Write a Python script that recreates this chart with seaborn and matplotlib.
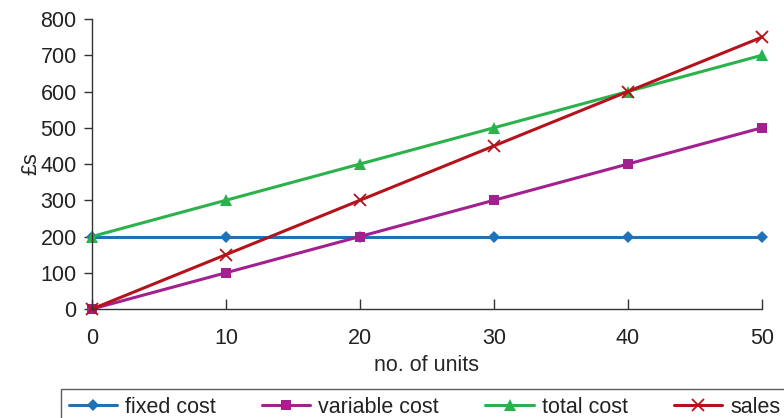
import pandas as pd
import matplotlib.pyplot as plt
import seaborn as sns

units = [0, 10, 20, 30, 40, 50]
fixed_cost = [200, 200, 200, 200, 200, 200]
variable_cost = [0, 100, 200, 300, 400, 500]
total_cost = [200, 300, 400, 500, 600, 700]
sales = [0, 150, 300, 450, 600, 750]

sns.set_style('white')
plt.rcParams['font.family'] = ['Liberation Sans', 'DejaVu Sans']

fig = plt.figure(figsize=(7.84, 4.18), dpi=100)
ax = fig.add_axes([92/784, 1 - 309/418, (762 - 92)/784, (309 - 19)/418])

# one line per series, drawn in legend order
series = [
    ('fixed cost', fixed_cost, '#1f72b8', 'D', 6.5),
    ('variable cost', variable_cost, '#a3208f', 's', 7.5),
    ('total cost', total_cost, '#2bb24c', '^', 8),
    ('sales', sales, '#b5121b', 'x', 9),
]
for name, vals, col, mk, ms in series:
    sns.lineplot(x=units, y=vals, ax=ax, color=col, marker=mk, markersize=ms,
                 linewidth=2.2, label=name, markeredgecolor=col,
                 markeredgewidth=1.3 if mk == 'x' else 0, clip_on=False)

ax.set_xlim(0, 50)
ax.set_ylim(0, 800)
ax.set_xticks(units)
ax.set_yticks(range(0, 801, 100))
ax.set_xlabel('no. of units', fontsize=15.5, labelpad=4)
ax.set_ylabel('£s', fontsize=15.5, labelpad=-1)
ax.tick_params(axis='y', direction='out', length=6, width=1, labelsize=15.5, left=True,
               color='#333333', labelcolor='#222222', pad=5)
ax.tick_params(axis='x', direction='in', length=7, width=1, labelsize=15.5, bottom=True,
               color='#333333', labelcolor='#222222', pad=14)
for s in ['top', 'right']:
    ax.spines[s].set_visible(False)
for s in ['left', 'bottom']:
    ax.spines[s].set_color('#333333')
    ax.spines[s].set_linewidth(1)

ax.get_legend().remove()
handles, labels = ax.get_legend_handles_labels()
leg = fig.legend(handles, labels, loc='upper left', bbox_to_anchor=(61/784, 1 - 389/418),
                 ncol=4, frameon=True, fancybox=False, edgecolor='#333333',
                 fontsize=15.5, handlelength=2.25, columnspacing=2.15, borderaxespad=0,
                 borderpad=0.35, handletextpad=0.37, labelcolor='#222222')
leg.get_frame().set_linewidth(1)

fig.savefig('out.png', dpi=100)
